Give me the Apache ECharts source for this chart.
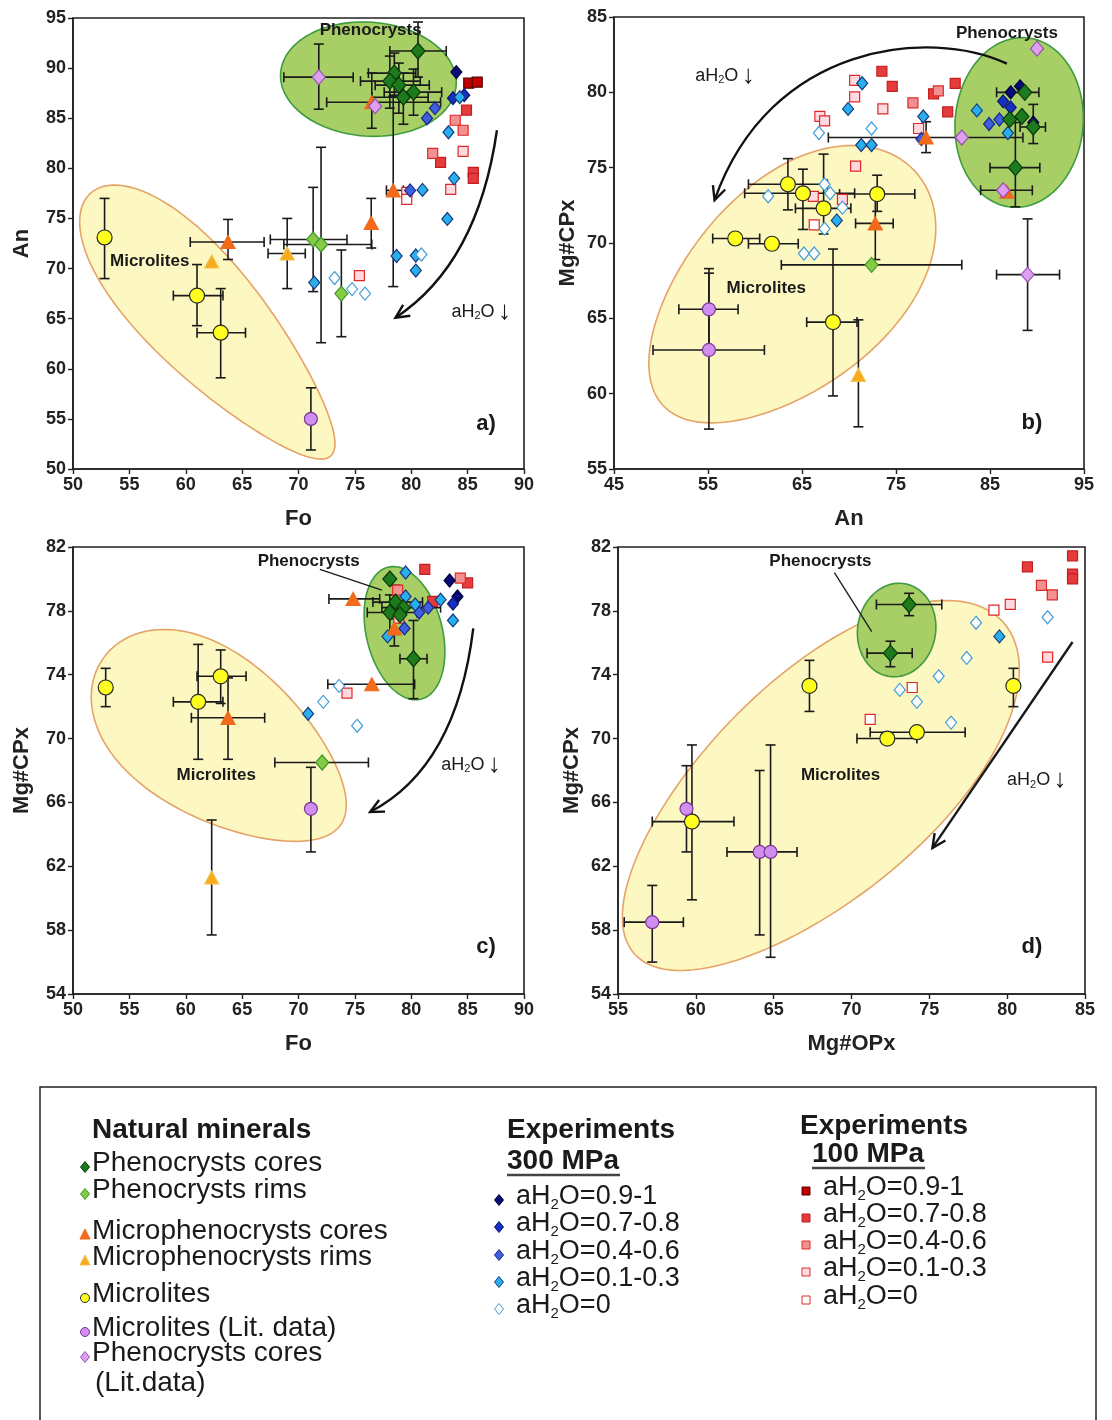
<!DOCTYPE html>
<html>
<head>
<meta charset="utf-8">
<script src="https://cdn.jsdelivr.net/npm/echarts@6/dist/echarts.min.js"></script>
<style>
  html, body { margin: 0; padding: 0; background: #fff; }
  #chart { width: 1112px; height: 1420px; }
</style>
</head>
<body>
<div id="chart"></div>
<script>
// Rows are [x, y] or [x, y, xLow, xHigh, yLow, yHigh] (null = no bar on that axis).

// ---------- a) Fo vs An ----------
const aPhenoCores = [[80.6, 91.7, 78.1, 83.1, 89.1, 94.6], [78.5, 89.5, 76.2, 80.4, 87.3, 91.5], [78.1, 88.7, 75.5, 80.8, 86.0, 91.2],
  [78.9, 88.3, 76.8, 81.6, 85.5, 90.5], [80.2, 87.6, 77.6, 82.7, 85.3, 89.9], [79.3, 87.1, 76.5, 81.5, 84.4, 89.5]];
const aPhenoRims = [[71.3, 72.9, 67.5, 74.3, 67.7, 78.1], [72.0, 72.4, 68.7, 76.5, 62.6, 82.1], [73.8, 67.5, null, null, 63.2, 71.85]];
const aMicroCores = [[63.75, 72.65, 60.4, 66.95, 70.9, 74.9], [76.5, 86.6, 72.5, 82.6, 84.0, 89.5], [78.4, 77.8, 77.8, 79.3, 68.2, 87.2],
  [76.45, 74.55, null, null, 72.05, 77.0]];
const aMicroRims = [[62.3, 70.7], [69.0, 71.5, 67.3, 70.6, 68.0, 75.0]];
const aMicrolites = [[52.8, 73.1, null, null, 69.0, 77.0], [61.0, 67.3, 58.9, 63.3, 64.3, 70.4], [63.1, 63.6, 61.0, 65.3, 59.1, 68.0]];
const aMicrolitesLit = [[71.1, 55.0, null, null, 51.9, 58.1]];
const aPhenoLit = [[71.8, 89.1, 68.7, 74.85, 85.9, 92.4], [76.8, 86.2]];
const a300_1 = [[84.0, 89.6]];
const a300_2 = [[83.7, 87.0], [84.7, 87.3]];
const a300_3 = [[82.1, 86.0], [81.4, 85.0], [79.9, 77.8]];
const a300_4 = [[84.3, 87.1], [83.3, 83.6], [83.8, 79.0], [83.2, 74.95], [81.0, 77.85], [78.7, 71.25], [80.4, 69.8], [80.4, 71.3], [71.4, 68.6]];
const a300_5 = [[73.2, 69.05], [74.75, 67.95], [75.9, 67.5], [80.9, 71.4]];
const a100_1 = [[85.1, 88.5], [85.85, 88.6]];
const a100_2 = [[84.9, 85.8], [85.5, 79.6], [85.5, 79.0], [82.6, 80.6]];
const a100_3 = [[83.9, 84.8], [84.6, 83.8], [81.9, 81.5]];
const a100_4 = [[84.6, 81.7], [83.5, 77.9], [79.6, 77.6], [75.4, 69.3]];
const a100_5 = [[79.6, 76.9]];

// ---------- b) An vs Mg#CPx ----------
const bPhenoCores = [[88.7, 80.0, 85.7, 90.2, null, null], [87.1, 78.2], [88.4, 78.4], [89.6, 77.7, 88.2, 90.9, 76.6, 79.2],
  [87.7, 75.0, 85.0, 90.3, 72.4, 78.0]];
const bPhenoRims = [[72.4, 68.55, 62.8, 82.0, null, null]];
const bMicroCores = [[72.8, 71.3, 70.7, 74.7, 68.9, 73.2], [78.2, 77.0, null, null, 76.0, 78.05], [86.8, 73.4]];
const bMicroRims = [[71.0, 61.25, null, null, 57.8, 64.9]];
const bMicrolites = [[57.9, 70.3, 55.5, 60.5, null, null], [61.8, 69.95, 59.3, 64.6, null, null], [63.5, 73.9, 59.3, 67.7, 72.2, 75.6],
  [65.1, 73.3, 58.9, 70.6, 70.9, 74.9], [67.3, 72.3, 64.3, 70.2, 70.6, 75.9], [68.3, 64.75, 65.5, 70.85, 59.85, 69.6],
  [73.0, 73.25, 69.0, 77.0, 72.1, 74.5]];
const bMicrolitesLit = [[55.1, 65.6, 51.9, 58.2, 62.9, 68.3], [55.1, 62.9, 49.15, 61.0, 57.65, 68.0]];
const bPhenoLit = [[90.0, 82.9], [82.0, 77.0, 67.8, 88.5, null, null], [86.4, 73.5, 84.0, 89.5, null, null], [89.0, 67.9, 85.7, 92.4, 64.2, 71.6]];
const b300_1 = [[88.2, 80.4], [87.2, 80.0], [89.6, 78.0]];
const b300_2 = [[86.4, 79.4], [87.2, 79.0]];
const b300_3 = [[86.0, 78.2], [84.9, 77.9], [77.7, 76.9]];
const b300_4 = [[83.6, 78.8], [86.9, 77.3], [71.4, 80.6], [69.9, 78.9], [77.9, 78.4], [71.3, 76.5], [72.4, 76.5], [68.7, 71.5]];
const b300_5 = [[72.4, 77.6], [66.8, 77.3], [61.4, 73.1], [67.4, 73.9], [68.0, 73.3], [69.3, 72.35], [67.4, 70.95], [65.2, 69.3], [66.3, 69.3]];
const b100_1 = [];
const b100_2 = [[73.5, 81.4], [74.6, 80.4], [81.3, 80.6], [79.0, 79.9], [80.5, 78.7]];
const b100_3 = [[76.8, 79.3], [79.5, 80.1]];
const b100_4 = [[70.6, 80.8], [70.6, 79.7], [73.6, 78.9], [77.4, 77.6], [70.7, 75.1], [66.9, 78.4], [67.4, 78.1], [66.2, 73.1], [69.3, 72.9]];
const b100_5 = [[66.3, 71.2]];

// ---------- c) Fo vs Mg#CPx ----------
const cPhenoCores = [[78.1, 80.0], [78.6, 78.55, 76.6, 81.0, 77.5, 79.6], [78.1, 77.9, 76.1, 80.5, 76.6, 79.0], [79.3, 78.2, 77.4, 82.6, null, null],
  [79.0, 77.75], [80.2, 75.0, 79.0, 81.4, 72.5, 77.4]];
const cPhenoRims = [[72.1, 68.5, 67.9, 76.2, null, null]];
const cMicroCores = [[63.75, 71.3, 60.5, 67.0, 68.7, 73.8], [74.85, 78.75, 72.7, 77.2, null, null], [76.5, 73.4, 72.6, 80.3, null, null],
  [78.5, 76.9, null, null, 75.8, 77.8]];
const cMicroRims = [[62.3, 61.3, null, null, 57.7, 64.9]];
const cMicrolites = [[52.9, 73.2, null, null, 72.0, 74.4], [61.1, 72.3, 58.9, 63.3, 68.7, 75.9], [63.1, 73.9, 61.0, 65.35, 72.2, 75.55]];
const cMicrolitesLit = [[71.1, 65.6, null, null, 62.9, 68.2]];
const cPhenoLit = [];
const c300_1 = [[83.4, 79.9], [84.1, 78.9]];
const c300_2 = [[83.7, 78.45]];
const c300_3 = [[80.7, 77.9], [81.5, 78.2], [79.4, 76.9]];
const c300_4 = [[79.5, 80.4], [79.5, 78.9], [80.35, 78.4], [82.6, 78.7], [83.7, 77.4], [77.9, 76.4], [70.85, 71.55]];
const c300_5 = [[73.6, 73.3], [72.2, 72.3], [75.2, 70.8]];
const c100_1 = [];
const c100_2 = [[81.2, 80.6], [85.0, 79.75], [81.9, 78.6]];
const c100_3 = [[84.35, 80.05], [78.8, 79.3]];
const c100_4 = [[78.9, 77.55], [74.3, 72.85]];
const c100_5 = [];

// ---------- d) Mg#OPx vs Mg#CPx ----------
const dPhenoCores = [[73.7, 78.4, 71.6, 75.8, 77.7, 79.1], [72.5, 75.35, 71.0, 73.9, 74.5, 76.1]];
const dMicrolites = [[67.3, 73.3, null, null, 71.7, 74.9], [59.75, 64.8, 57.2, 62.45, 59.9, 69.6], [72.3, 70.0, 70.35, 74.2, null, null],
  [74.2, 70.4, 71.2, 77.3, null, null], [80.4, 73.3, null, null, 72.0, 74.4]];
const dMicrolitesLit = [[59.4, 65.6, null, null, 62.9, 68.3], [64.1, 62.9, 62.0, 66.5, 57.7, 68.0], [64.8, 62.9, null, null, 56.3, 69.6],
  [57.2, 58.5, 55.4, 59.2, 56.0, 60.8]];
const d300_4 = [[79.5, 76.4]];
const d300_5 = [[78.0, 77.25], [77.4, 75.05], [75.6, 73.9], [73.1, 73.05], [74.2, 72.3], [76.4, 71.0], [82.6, 77.6]];
const d100_2 = [[84.2, 81.45], [84.2, 80.3], [84.2, 80.0], [81.3, 80.75]];
const d100_3 = [[82.2, 79.6], [82.9, 79.0]];
const d100_4 = [[80.2, 78.4], [82.6, 75.1]];
const d100_5 = [[79.15, 78.05], [73.9, 73.2], [71.2, 71.2]];

// Axis ranges [min, max, step] and titles
const axesX = [[50, 90, 5, 'Fo'], [45, 95, 10, 'An'], [50, 90, 5, 'Fo'], [55, 85, 5, 'Mg#OPx']];
const axesY = [[50, 95, 5, 'An'], [55, 85, 5, 'Mg#CPx'], [54, 82, 4, 'Mg#CPx'], [54, 82, 4, 'Mg#CPx']];

// Legend texts
const naturalNames = ['Phenocrysts cores', 'Phenocrysts rims', 'Microphenocrysts cores', 'Microphenocrysts rims',
  'Microlites', 'Microlites (Lit. data)', 'Phenocrysts cores'];
const waterClasses = ['0.9-1', '0.7-0.8', '0.4-0.6', '0.1-0.3', '0'];

// ---------- styling ----------
const FONT = '"Liberation Sans", Arial, Helvetica, sans-serif';
const TYPE = {
  e100_1: { symbol: 'rect', size: 10, color: '#c10000', border: '#5a0000' },
  e100_2: { symbol: 'rect', size: 10, color: '#e43c3c', border: '#c41e1e' },
  e100_3: { symbol: 'rect', size: 10, color: '#f39090', border: '#e02828' },
  e100_4: { symbol: 'rect', size: 10, color: '#ffd9e0', border: '#e02828' },
  e100_5: { symbol: 'rect', size: 10, color: '#ffffff', border: '#e02828' },
  e300_1: { symbol: 'diamond', size: [11, 13], color: '#0b0b78', border: '#00003a' },
  e300_2: { symbol: 'diamond', size: [11, 13], color: '#1630c4', border: '#0a1470' },
  e300_3: { symbol: 'diamond', size: [11, 13], color: '#3e60de', border: '#18288a' },
  e300_4: { symbol: 'diamond', size: [11, 13], color: '#28b0ee', border: '#17397f' },
  e300_5: { symbol: 'diamond', size: [11, 13], color: '#ffffff', border: '#3d9cd8' },
  microRims: { symbol: 'triangle', size: [14, 13], color: '#f8aa1e', border: '#f4c24a' },
  microCores: { symbol: 'triangle', size: [14, 13], color: '#f36a1b', border: '#ef6a1b' },
  phenoRims: { symbol: 'diamond', size: [13, 15], color: '#86cb43', border: '#3d962c' },
  phenoCores: { symbol: 'diamond', size: [14, 16], color: '#1d7a1d', border: '#0b360b' },
  microlites: { symbol: 'circle', size: 15, color: '#ffff1e', border: '#2a2a2a' },
  microlitesLit: { symbol: 'circle', size: 13, color: '#d08ff0', border: '#7a3596' },
  phenoLit: { symbol: 'diamond', size: [13, 15], color: '#df9ff0', border: '#9552b0' }
};
const REGION_STYLE = {
  pheno: { fill: '#a8cf66', stroke: '#3e9b3e' },
  micro: { fill: '#fdf8c2', stroke: '#e4a468' }
};

// Outline regions (drawn in order): centre in data units, semi-axes in px, rotation in degrees, egg = taper
const REGIONS = [
  [{ kind: 'micro', at: [62.2, 64.4], rx: 178, ry: 57, rot: 47.5, egg: 0.25 },
   { kind: 'pheno', at: [76.2, 88.9], rx: 88, ry: 57, rot: 4, egg: 0 }],
  [{ kind: 'micro', at: [63.6, 67.0], rx: 172, ry: 101, rot: -43, egg: -0.12 },
   { kind: 'pheno', at: [88.1, 78.0], rx: 64, ry: 85, rot: 5, egg: 0 }],
  [{ kind: 'micro', at: [63.2, 69.8], rx: 145, ry: 80, rot: 35, egg: 0.2 },
   { kind: 'pheno', at: [79.4, 76.6], rx: 68, ry: 38, rot: 76, egg: 0 }],
  [{ kind: 'micro', at: [67.9, 66.9], rx: 248, ry: 110, rot: -42, egg: -0.08 },
   { kind: 'pheno', at: [72.9, 76.8], rx: 39, ry: 47, rot: 10, egg: 0 }]
];

// Trend arrows (start, control point(s), end) and captions, in data units
const NOTES = [
  { arrow: [[87.6, 83.8], [85.9, 70.5], [78.6, 65.1]], labels: [['Phenocrysts', 76.4, 93.8], ['Microlites', 56.8, 70.7], ['WATER', 86.2, 65.7]] },
  { arrow: [[86.8, 81.9], [78.6, 84.3], [61.6, 83.3], [55.7, 72.85]], labels: [['Phenocrysts', 86.8, 83.9], ['Microlites', 61.2, 67.0], ['WATER', 56.8, 81.1]] },
  { arrow: [[85.5, 76.9], [84.0, 68.2], [76.35, 65.4]], labels: [['Phenocrysts', 70.9, 81.1], ['Microlites', 62.7, 67.7], ['WATER', 85.3, 68.35]],
    leader: [[71.9, 80.6], [77.4, 79.3]] },
  { arrow: [[84.2, 76.05], [75.2, 63.15]], labels: [['Phenocrysts', 68.0, 81.1], ['Microlites', 69.3, 67.7], ['WATER', 81.9, 67.4]],
    leader: [[68.9, 80.4], [71.3, 76.7]] }
];

const PANEL_SETS = [
  { e100_1: a100_1, e100_2: a100_2, e100_3: a100_3, e100_4: a100_4, e100_5: a100_5,
    e300_1: a300_1, e300_2: a300_2, e300_3: a300_3, e300_4: a300_4, e300_5: a300_5,
    microRims: aMicroRims, microCores: aMicroCores, phenoRims: aPhenoRims, phenoCores: aPhenoCores,
    microlites: aMicrolites, microlitesLit: aMicrolitesLit, phenoLit: aPhenoLit },
  { e100_1: b100_1, e100_2: b100_2, e100_3: b100_3, e100_4: b100_4, e100_5: b100_5,
    e300_1: b300_1, e300_2: b300_2, e300_3: b300_3, e300_4: b300_4, e300_5: b300_5,
    microRims: bMicroRims, microCores: bMicroCores, phenoRims: bPhenoRims, phenoCores: bPhenoCores,
    microlites: bMicrolites, microlitesLit: bMicrolitesLit, phenoLit: bPhenoLit },
  { e100_1: c100_1, e100_2: c100_2, e100_3: c100_3, e100_4: c100_4, e100_5: c100_5,
    e300_1: c300_1, e300_2: c300_2, e300_3: c300_3, e300_4: c300_4, e300_5: c300_5,
    microRims: cMicroRims, microCores: cMicroCores, phenoRims: cPhenoRims, phenoCores: cPhenoCores,
    microlites: cMicrolites, microlitesLit: cMicrolitesLit, phenoLit: cPhenoLit },
  { e100_2: d100_2, e100_3: d100_3, e100_4: d100_4, e100_5: d100_5,
    e300_4: d300_4, e300_5: d300_5,
    phenoCores: dPhenoCores, microlites: dMicrolites, microlitesLit: dMicrolitesLit }
];

const GRIDS = [
  { left: 73, top: 18, width: 451, height: 451 },
  { left: 614, top: 17, width: 470, height: 452 },
  { left: 73, top: 547, width: 451, height: 447 },
  { left: 618, top: 547, width: 467, height: 447 }
];
const Y_NAME_GAP = [40, 35, 40, 35];
const PANEL_TAGS = [['a)', 486, 424], ['b)', 1032, 423], ['c)', 486, 947], ['d)', 1032, 947]];

// ---------- builders ----------
function regionSeries(i) {
  const regs = REGIONS[i];
  return {
    type: 'custom', xAxisIndex: i, yAxisIndex: i, z: 1, silent: true, clip: false,
    data: regs.map(r => r.at),
    renderItem(params, api) {
      const r = regs[params.dataIndex];
      const c = api.coord(r.at);
      const a = r.rot * Math.PI / 180;
      const pts = [];
      for (let k = 0; k < 120; k++) {
        const t = k / 120 * 2 * Math.PI;
        const lx = r.rx * Math.cos(t);
        const ly = r.ry * Math.sin(t) * (1 - r.egg * Math.cos(t));
        pts.push([c[0] + lx * Math.cos(a) - ly * Math.sin(a), c[1] + lx * Math.sin(a) + ly * Math.cos(a)]);
      }
      const st = REGION_STYLE[r.kind];
      return { type: 'polygon', z2: params.dataIndex, shape: { points: pts }, style: { fill: st.fill, stroke: st.stroke, lineWidth: 1.6 } };
    }
  };
}

function seg(p, q, w) {
  return { type: 'line', shape: { x1: p[0], y1: p[1], x2: q[0], y2: q[1] }, style: { stroke: '#1a1a1a', lineWidth: w || 1.6 } };
}

function errorSeries(i) {
  const rows = [];
  Object.values(PANEL_SETS[i]).forEach(arr => arr.forEach(r => { if (r.length > 2) rows.push(r); }));
  return {
    type: 'custom', xAxisIndex: i, yAxisIndex: i, z: 2, silent: true, clip: false,
    data: rows.map(r => [r[0], r[1]]),
    renderItem(params, api) {
      const r = rows[params.dataIndex];
      const c = api.coord([r[0], r[1]]);
      const cap = 5, ch = [];
      if (r[2] != null) {
        const p0 = api.coord([r[2], r[1]]), p1 = api.coord([r[3], r[1]]);
        ch.push(seg(p0, p1), seg([p0[0], c[1] - cap], [p0[0], c[1] + cap]), seg([p1[0], c[1] - cap], [p1[0], c[1] + cap]));
      }
      if (r[4] != null) {
        const p0 = api.coord([r[0], r[4]]), p1 = api.coord([r[0], r[5]]);
        ch.push(seg(p0, p1), seg([c[0] - cap, p0[1]], [c[0] + cap, p0[1]]), seg([c[0] - cap, p1[1]], [c[0] + cap, p1[1]]));
      }
      return { type: 'group', children: ch };
    }
  };
}

const WATER_RICH = {
  n: { fontSize: 18, fontFamily: FONT, fill: '#1a1a1a' },
  s: { fontSize: 11, fontFamily: FONT, fill: '#1a1a1a', padding: [9, 0, 0, 0] },
  r: { fontSize: 26, fontFamily: FONT, fill: '#1a1a1a' }
};

function noteSeries(i) {
  const note = NOTES[i];
  return {
    type: 'custom', xAxisIndex: i, yAxisIndex: i, z: 20, silent: true, clip: false,
    data: [note.arrow[0]],
    renderItem(params, api) {
      const ch = [];
      const P = note.arrow.map(p => api.coord(p));
      const end = P[P.length - 1], prev = P[P.length - 2];
      if (P.length === 2) ch.push(seg(P[0], P[1], 2.4));
      else {
        const shape = { x1: P[0][0], y1: P[0][1], x2: end[0], y2: end[1], cpx1: P[1][0], cpy1: P[1][1] };
        if (P.length === 4) { shape.cpx2 = P[2][0]; shape.cpy2 = P[2][1]; }
        ch.push({ type: 'bezierCurve', shape, style: { stroke: '#111', lineWidth: 2.4, fill: null } });
      }
      const dx = end[0] - prev[0], dy = end[1] - prev[1], L = Math.hypot(dx, dy);
      const ux = dx / L, uy = dy / L, hl = 15, ang = 0.45;
      const h1 = [end[0] - hl * (ux * Math.cos(ang) - uy * Math.sin(ang)), end[1] - hl * (uy * Math.cos(ang) + ux * Math.sin(ang))];
      const h2 = [end[0] - hl * (ux * Math.cos(-ang) - uy * Math.sin(-ang)), end[1] - hl * (uy * Math.cos(-ang) + ux * Math.sin(-ang))];
      ch.push({ type: 'polyline', shape: { points: [h1, end, h2] }, style: { stroke: '#111', lineWidth: 2.4, fill: null } });
      if (note.leader) {
        const l = note.leader.map(p => api.coord(p));
        ch.push(seg(l[0], l[1], 1.3));
      }
      note.labels.forEach(([txt, x, y]) => {
        const p = api.coord([x, y]);
        if (txt === 'WATER') {
          ch.push({ type: 'text', x: p[0], y: p[1], style: { text: '{n|aH}{s|2}{n|O} {r|↓}', rich: WATER_RICH, align: 'center', verticalAlign: 'middle' } });
        } else {
          ch.push({ type: 'text', x: p[0], y: p[1], style: { text: txt, font: 'bold 17px ' + FONT, fill: '#1a1a1a', align: 'center', verticalAlign: 'middle' } });
        }
      });
      return { type: 'group', children: ch };
    }
  };
}

const series = [];
GRIDS.forEach((g, i) => {
  series.push(regionSeries(i));
  series.push(errorSeries(i));
  Object.keys(TYPE).forEach(key => {
    const rows = PANEL_SETS[i][key];
    if (!rows || !rows.length) return;
    const t = TYPE[key];
    series.push({
      type: 'scatter', xAxisIndex: i, yAxisIndex: i, z: 5, silent: true,
      symbol: t.symbol, symbolSize: t.size,
      itemStyle: { color: t.color, borderColor: t.border, borderWidth: 1.2, opacity: 1 },
      data: rows.map(r => [r[0], r[1]])
    });
  });
  series.push(noteSeries(i));
});

const axisCommon = {
  axisLine: { show: true, onZero: false, lineStyle: { color: '#222', width: 1.6 } },
  axisTick: { show: true, inside: false, length: 5, lineStyle: { color: '#222', width: 1.4 } },
  splitLine: { show: false },
  axisLabel: { color: '#222', fontWeight: 'bold', fontSize: 18, fontFamily: FONT, margin: 7 },
  nameLocation: 'middle',
  nameTextStyle: { color: '#222', fontWeight: 'bold', fontSize: 22, fontFamily: FONT }
};

const xAxis = axesX.map((a, i) => Object.assign({}, axisCommon, {
  type: 'value', gridIndex: i, min: a[0], max: a[1], interval: a[2], name: a[3], nameGap: 39
}));
const yAxis = axesY.map((a, i) => Object.assign({}, axisCommon, {
  type: 'value', gridIndex: i, min: a[0], max: a[1], interval: a[2], name: a[3], nameGap: Y_NAME_GAP[i]
}));

// ---------- legend panel ----------
function markShape(key, x, y) {
  const t = TYPE[key];
  const style = { fill: t.color, stroke: t.border, lineWidth: 1 };
  if (t.symbol === 'diamond') return { type: 'polygon', shape: { points: [[x, y - 5.5], [x + 4.5, y], [x, y + 5.5], [x - 4.5, y]] }, style };
  if (t.symbol === 'triangle') return { type: 'polygon', shape: { points: [[x, y - 6], [x + 5, y + 4], [x - 5, y + 4]] }, style };
  if (t.symbol === 'circle') return { type: 'circle', shape: { cx: x, cy: y, r: 4.5 }, style };
  return { type: 'rect', shape: { x: x - 4, y: y - 4, width: 8, height: 8 }, style };
}
function ltext(txt, x, y, bold) {
  return { type: 'text', x, y, style: { text: txt, font: (bold ? 'bold ' : '') + '28px ' + FONT, fill: '#1a1a1a', align: 'left', verticalAlign: 'middle' } };
}
const LEG_RICH = {
  n: { fontSize: 27, fontFamily: FONT, fill: '#1a1a1a' },
  s: { fontSize: 15, fontFamily: FONT, fill: '#1a1a1a', padding: [16, 0, 0, 0] }
};
function waterText(cls, x, y) {
  return { type: 'text', x, y, style: { text: '{n|aH}{s|2}{n|O=' + cls + '}', rich: LEG_RICH, align: 'left', verticalAlign: 'middle' } };
}

const legend = [];
legend.push({ type: 'rect', shape: { x: 40, y: 1087, width: 1056, height: 400 }, style: { fill: null, stroke: '#222', lineWidth: 1.5 } });
legend.push(ltext('Natural minerals', 92, 1130, true));
const natKeys = ['phenoCores', 'phenoRims', 'microCores', 'microRims', 'microlites', 'microlitesLit', 'phenoLit'];
const natY = [1163, 1190, 1231, 1257, 1294, 1328, 1353];
natKeys.forEach((k, j) => {
  legend.push(markShape(k, 85, natY[j] + 4));
  legend.push(ltext(naturalNames[j], 92, natY[j], false));
});
legend.push(ltext('(Lit.data)', 95, 1383, false));

legend.push(ltext('Experiments', 507, 1130, true));
legend.push(ltext('300 MPa', 507, 1161, true));
legend.push({ type: 'line', shape: { x1: 507, y1: 1175, x2: 620, y2: 1175 }, style: { stroke: '#444', lineWidth: 2.5 } });
const y300 = [1197, 1224, 1252, 1279, 1306];
waterClasses.forEach((cls, j) => {
  legend.push(markShape('e300_' + (j + 1), 499, y300[j] + 3));
  legend.push(waterText(cls, 516, y300[j]));
});

legend.push(ltext('Experiments', 800, 1126, true));
legend.push(ltext('100 MPa', 812, 1154, true));
legend.push({ type: 'line', shape: { x1: 812, y1: 1168, x2: 925, y2: 1168 }, style: { stroke: '#444', lineWidth: 2.5 } });
const y100 = [1188, 1215, 1242, 1269, 1297];
waterClasses.forEach((cls, j) => {
  legend.push(markShape('e100_' + (j + 1), 806, y100[j] + 3));
  legend.push(waterText(cls, 823, y100[j]));
});

PANEL_TAGS.forEach(([t, x, y]) => legend.push({ type: 'text', x, y, style: { text: t, font: 'bold 22px ' + FONT, fill: '#1a1a1a', align: 'center', verticalAlign: 'middle' } }));

const chart = echarts.init(document.getElementById('chart'), null, { renderer: 'canvas' });
chart.setOption({
  animation: false,
  backgroundColor: '#ffffff',
  grid: GRIDS.map(g => Object.assign({ show: true, borderColor: '#222', borderWidth: 1.6, backgroundColor: 'transparent' }, g)),
  xAxis, yAxis, series,
  graphic: { elements: legend }
});
</script>
</body>
</html>
